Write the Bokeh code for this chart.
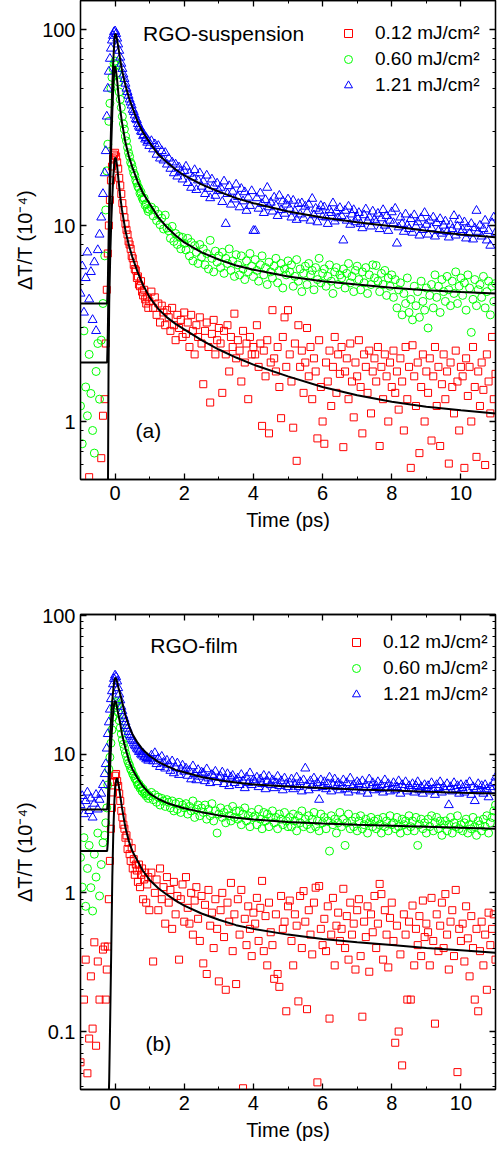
from bokeh.plotting import figure
from bokeh.layouts import column
from bokeh.models import (Range1d, FixedTicker, LinearAxis, LogAxis, CustomJSTickFormatter,
                          Legend, LegendItem, Label)
from bokeh.embed import file_html
from bokeh.resources import INLINE

FONT = "Liberation Sans"

# ---------------- time grid (ps) ----------------
TIME_PRE = [-1.0, -0.95, -0.9, -0.85, -0.8, -0.75, -0.7, -0.65, -0.6, -0.55, -0.5, -0.45, -0.4, -0.35, -0.3]
TIME_PEAK = [-0.27, -0.24, -0.21, -0.18, -0.15, -0.12, -0.09, -0.06, -0.03, 0.0,
             0.03, 0.06, 0.09, 0.12, 0.15, 0.18, 0.21, 0.24, 0.27, 0.3,
             0.33, 0.36, 0.39, 0.42, 0.45, 0.48, 0.51, 0.54, 0.57, 0.6,
             0.63, 0.66, 0.69, 0.72, 0.75, 0.78, 0.81, 0.84, 0.87, 0.9,
             0.93, 0.96, 0.99]
TIME_TAIL = [1.05, 1.1, 1.15, 1.2, 1.25, 1.3, 1.35, 1.4, 1.45, 1.5,
             1.55, 1.6, 1.65, 1.7, 1.75, 1.8, 1.85, 1.9, 1.95, 2.0,
             2.05, 2.1, 2.15, 2.2, 2.25, 2.3, 2.35, 2.4, 2.45, 2.5,
             2.55, 2.6, 2.65, 2.7, 2.75, 2.8, 2.85, 2.9, 2.95, 3.0,
             3.05, 3.1, 3.15, 3.2, 3.25, 3.3, 3.35, 3.4, 3.45, 3.5,
             3.55, 3.6, 3.65, 3.7, 3.75, 3.8, 3.85, 3.9, 3.95, 4.0,
             4.05, 4.1, 4.15, 4.2, 4.25, 4.3, 4.35, 4.4, 4.45, 4.5,
             4.55, 4.6, 4.65, 4.7, 4.75, 4.8, 4.85, 4.9, 4.95, 5.0,
             5.05, 5.1, 5.15, 5.2, 5.25, 5.3, 5.35, 5.4, 5.45, 5.5,
             5.55, 5.6, 5.65, 5.7, 5.75, 5.8, 5.85, 5.9, 5.95, 6.0,
             6.05, 6.1, 6.15, 6.2, 6.25, 6.3, 6.35, 6.4, 6.45, 6.5,
             6.55, 6.6, 6.65, 6.7, 6.75, 6.8, 6.85, 6.9, 6.95, 7.0,
             7.05, 7.1, 7.15, 7.2, 7.25, 7.3, 7.35, 7.4, 7.45, 7.5,
             7.55, 7.6, 7.65, 7.7, 7.75, 7.8, 7.85, 7.9, 7.95, 8.0,
             8.05, 8.1, 8.15, 8.2, 8.25, 8.3, 8.35, 8.4, 8.45, 8.5,
             8.55, 8.6, 8.65, 8.7, 8.75, 8.8, 8.85, 8.9, 8.95, 9.0,
             9.05, 9.1, 9.15, 9.2, 9.25, 9.3, 9.35, 9.4, 9.45, 9.5,
             9.55, 9.6, 9.65, 9.7, 9.75, 9.8, 9.85, 9.9, 9.95, 10.0,
             10.05, 10.1, 10.15, 10.2, 10.25, 10.3, 10.35, 10.4, 10.45, 10.5,
             10.55, 10.6, 10.65, 10.7, 10.75, 10.8, 10.85, 10.9, 10.95, 11.0]
TIME = TIME_PRE + TIME_PEAK + TIME_TAIL

# ---------------- (a) RGO-suspension, 0.12 mJ/cm2 ----------------
A_RED_PRE = [0.3, 0.42, 0.2, 0.35, 0.25, 0.52, 0.3, 0.15, 0.45, 0.38, 0.28, 0.4, 0.65, 1.07, 1.3]
A_RED_PEAK = [2.5, 4.7, 7.2, 10, 13.5, 17, 20, 22, 23, 23.5,
              22.5, 21, 19.5, 17.5, 16, 14.5, 13, 12, 11, 10.2,
              9.5, 9.0, 8.3, 8.0, 7.6, 7.0, 6.8, 6.3, 6.0, 5.9,
              5.4, 5.5, 5.0, 4.9, 5.2, 4.6, 4.4, 4.7, 4.2, 4.0,
              4.3, 3.8, 4.1]
A_RED_TAIL = [4.6, 3.8, 4.3, 3.5, 4.0, 3.2, 3.9, 3.6, 3.1, 3.7,
              3.4, 2.9, 3.8, 3.1, 2.6, 3.5, 3.0, 3.3, 2.7, 3.6,
              2.8, 3.2, 2.4, 3.5, 2.9, 2.2, 3.1, 2.7, 3.4, 2.5,
              1.55, 2.9, 3.2, 2.4, 1.25, 2.8, 3.3, 2.2, 2.6, 3.0,
              2.5, 1.4, 2.9, 2.2, 3.1, 1.8, 2.7, 2.4, 3.55, 2.1,
              2.6, 2.3, 1.6, 2.9, 2.0, 2.5, 1.3, 2.7, 2.2, 2.4,
              2.2, 3.1, 1.9, 2.5, 0.95, 2.3, 1.7, 2.6, 0.87, 2.0,
              3.7, 2.1, 1.8, 2.4, 1.5, 1.04, 2.7, 3.4, 1.9, 3.7,
              2.2, 1.6, 0.93, 2.5, 0.63, 3.1, 1.9, 2.3, 1.4, 2.0,
              3.0, 1.7, 2.4, 1.3, 2.1, 1.8, 0.82, 2.6, 1.5, 1.0,
              0.77, 2.0, 1.6, 2.3, 1.2, 1.9, 2.7, 1.4, 2.2, 1.75,
              2.4, 0.74, 1.8, 2.1, 1.3, 2.5, 1.6, 1.05, 2.0, 1.7,
              2.6, 1.5, 0.87, 2.2, 1.9, 1.4, 2.3, 1.1, 1.8, 2.1,
              1.6, 2.4, 0.75, 1.9, 1.3, 2.2, 1.7, 1.0, 2.0, 1.5,
              2.3, 1.4, 1.8, 1.15, 2.1, 1.6, 0.9, 2.4, 1.3, 1.9,
              0.58, 2.45, 1.7, 1.2, 2.0, 0.69, 1.5, 2.2, 1.0, 1.8,
              1.4, 2.1, 0.8, 1.7, 2.4, 1.2, 1.9, 0.75, 1.55, 2.2,
              1.3, 1.8, 0.61, 2.0, 1.5, 1.1, 2.3, 1.6, 0.9, 1.9,
              1.7, 0.58, 2.1, 1.35, 1.9, 1.0, 2.4, 1.5, 0.66, 1.8,
              1.2, 2.0, 1.45, 0.6, 2.2, 1.6, 1.1, 2.7, 1.3, 1.75]
A_RED = A_RED_PRE + A_RED_PEAK + A_RED_TAIL

# ---------------- (a) 0.60 mJ/cm2 ----------------
A_GREEN_PRE = [1.2, 0.77, 2.9, 1.5, 1.07, 2.2, 1.39, 0.9, 0.69, 1.8, 2.5, 1.3, 2.6, 4.0, 7.0]
A_GREEN_PEAK = [12, 19, 26, 34, 42, 50, 57, 63, 67, 69,
                66, 60, 54, 48, 44, 40, 36, 33, 31, 28.5,
                27, 25, 23.5, 22.5, 21, 20.5, 19.5, 18.5, 18, 17,
                16.5, 15.8, 15.5, 14.6, 14.8, 13.9, 13.5, 13.8, 12.7, 12.9,
                12.2, 11.8, 12.1]
A_GREEN_TAIL = [12.4, 11.2, 12.0, 10.6, 11.4, 10.1, 10.9, 9.6, 11.3, 9.7,
                9.4, 8.6, 9.9, 8.3, 9.1, 8.0, 8.8, 7.6, 8.7, 8.1,
                7.5, 8.6, 7.0, 8.2, 6.6, 7.9, 7.3, 6.4, 8.0, 6.9,
                7.6, 6.3, 7.2, 6.0, 8.4, 6.8, 5.8, 7.4, 6.5, 7.0,
                6.1, 7.3, 5.7, 6.8, 6.4, 7.6, 5.9, 6.6, 5.5, 7.1,
                6.3, 5.6, 7.0, 6.0, 5.3, 6.6, 5.8, 7.2, 6.2, 5.5,
                6.7, 5.9, 5.2, 6.3, 7.0, 5.6, 6.1, 5.0, 6.5, 5.8,
                5.4, 6.2, 6.8, 5.1, 5.9, 6.4, 4.8, 6.0, 5.6, 6.6,
                5.8, 6.3, 4.9, 5.5, 6.7, 5.2, 6.0, 4.6, 5.7, 6.2,
                5.0, 6.4, 5.6, 5.9, 4.7, 6.1, 5.3, 6.8, 5.1, 5.7,
                6.0, 4.9, 5.5, 6.3, 5.2, 4.5, 5.8, 6.1, 5.0, 5.6,
                5.4, 6.0, 4.8, 5.7, 6.4, 5.1, 5.5, 4.6, 5.9, 6.2,
                5.3, 4.7, 5.8, 5.1, 6.1, 4.5, 5.6, 5.0, 6.3, 5.4,
                6.25, 5.2, 4.6, 5.7, 5.0, 5.9, 4.4, 5.4, 4.9, 5.6,
                4.3, 5.3, 3.8, 4.7, 5.1, 3.5, 4.5, 4.0, 5.4, 3.6,
                4.2, 3.3, 4.9, 3.9, 4.6, 3.4, 5.2, 4.1, 3.7, 4.8,
                3.0, 4.4, 5.0, 3.8, 5.6, 4.3, 4.9, 3.6, 5.3, 4.6,
                4.1, 5.5, 4.7, 3.9, 5.2, 4.5, 5.8, 4.0, 4.9, 5.4,
                4.4, 5.1, 3.7, 5.6, 4.8, 2.85, 4.2, 5.3, 3.9, 4.7,
                5.0, 4.3, 5.5, 3.8, 4.6, 5.2, 3.5, 4.9, 4.1, 5.06]
A_GREEN = A_GREEN_PRE + A_GREEN_PEAK + A_GREEN_TAIL

# ---------------- (a) 1.21 mJ/cm2 ----------------
A_BLUE_PRE = [4.5, 6.2, 3.6, 5.4, 7.3, 4.2, 5.8, 3.3, 6.5, 2.9, 7.5, 9.0, 11, 14.5, 18.5]
A_BLUE_PEAK = [24, 36, 50, 61, 71, 80, 88, 93, 97, 98,
               95, 90, 84, 78, 72, 67, 63, 59, 56, 53,
               50, 48, 46, 44, 42.5, 41, 39, 38, 36.5, 35,
               34.5, 33, 32, 31.5, 30.2, 30, 28.6, 29, 27.5, 28,
               26.5, 27, 25.5]
A_BLUE_TAIL = [27, 24.5, 26, 23, 25.5, 22, 24, 21.5, 23.5, 20.5,
               22, 19.5, 21, 18.5, 20.5, 17.8, 19.8, 18.8, 17.2, 19.0,
               20, 16.5, 18.4, 15.6, 17.6, 19.2, 15.2, 17.0, 18.5, 15.8,
               16.8, 14.5, 18.0, 15.4, 13.8, 17.2, 15.9, 14.2, 16.4, 15.0,
               15.6, 13.2, 16.8, 10.2, 14.5, 15.9, 12.8, 14.9, 13.6, 16.2,
               14.0, 12.4, 15.4, 13.3, 14.8, 11.9, 13.9, 12.6, 15.0, 9.4,
               9.4, 13.8, 12.2, 14.6, 12.9, 11.6, 13.5, 15.6, 12.4, 13.1,
               11.8, 13.9, 12.6, 11.2, 14.2, 12.0, 13.3, 11.5, 12.8, 13.6,
               12.2, 11.0, 13.4, 11.8, 10.7, 12.9, 11.4, 13.0, 10.9, 12.5,
               11.7, 12.8, 10.6, 13.7, 11.3, 12.2, 10.4, 11.9, 12.6, 11.1,
               12.4, 11.0, 10.2, 12.0, 11.6, 13.0, 10.5, 11.8, 10.9, 12.3,
               11.2, 8.4, 11.9, 10.6, 12.5, 10.1, 11.4, 12.0, 10.4, 11.0,
               11.6, 10.2, 9.7, 11.3, 12.1, 10.5, 11.0, 9.9, 11.8, 10.7,
               10.4, 11.5, 9.6, 10.9, 12.0, 10.0, 11.2, 9.4, 10.6, 11.7,
               10.3, 12.2, 8.1, 9.8, 11.0, 10.2, 9.3, 11.4, 10.0, 9.6,
               10.8, 9.2, 11.3, 9.9, 10.4, 8.9, 10.9, 9.5, 11.6, 10.1,
               9.0, 10.6, 9.7, 11.0, 8.8, 10.3, 9.4, 10.8, 9.1, 10.0,
               10.5, 9.3, 8.7, 10.1, 9.6, 11.2, 8.9, 9.9, 10.7, 9.2,
               9.5, 10.4, 8.6, 9.8, 9.1, 10.2, 8.5, 9.7, 11.9, 9.3,
               10.0, 8.8, 9.6, 10.6, 8.4, 9.4, 7.9, 10.3, 11.0, 9.2]
A_BLUE = A_BLUE_PRE + A_BLUE_PEAK + A_BLUE_TAIL

# ---------------- (b) RGO-film, 0.12 mJ/cm2 ----------------
B_RED_PRE = [0.06, 0.03, 0.17, 0.33, 0.05, 0.089, 0.25, 0.105, 0.44, 0.079, 0.32, 0.17, 0.02, 0.39, 0.41]
B_RED_PEAK = [0.17, 0.28, 0.41, 0.9, 1.7, 2.9, 4.1, 5.3, 6.3, 7.0,
              7.2, 6.4, 5.9, 5.2, 4.6, 3.9, 3.5, 3.1, 2.9, 2.5,
              2.6, 2.07, 2.3, 1.9, 1.7, 2.1, 1.5, 1.75, 1.35, 1.6,
              1.45, 1.2, 1.6, 1.1, 1.35, 1.5, 0.9, 1.25, 1.4, 0.85,
              1.15, 1.3, 0.75]
B_RED_TAIL = [1.4, 0.32, 1.0, 1.25, 0.75, 1.5, 0.9, 1.1, 0.6, 1.3,
              0.85, 1.05, 0.55, 1.2, 0.7, 0.95, 0.33, 0.9, 1.15, 0.62,
              1.3, 0.78, 0.6, 1.0, 0.5, 0.88, 1.1, 0.65, 0.45, 0.95,
              0.31, 0.82, 0.26, 1.05, 0.58, 0.72, 0.4, 0.9, 0.55, 0.23,
              0.75, 1.0, 0.48, 0.2, 0.85, 0.62, 1.18, 0.38, 0.7, 0.22,
              0.9, 0.5, 1.05, 0.039, 0.65, 0.42, 0.8, 0.55, 0.35, 0.72,
              0.6, 0.92, 0.45, 0.78, 1.22, 0.38, 0.68, 0.3, 0.85, 0.52,
              0.42, 0.24, 0.7, 0.26, 0.21, 0.95, 0.55, 0.62, 0.14, 0.8,
              0.88, 0.45, 0.3, 0.7, 0.58, 0.165, 0.95, 0.4, 1.03, 0.62,
              0.145, 0.75, 0.5, 0.36, 0.85, 1.09, 0.043, 1.12, 0.55, 0.42,
              0.65, 0.38, 0.8, 0.124, 0.5, 0.92, 0.3, 0.58, 0.72, 0.45,
              0.55, 1.07, 0.4, 0.68, 0.33, 0.85, 0.5, 0.6, 0.28, 0.75,
              0.9, 0.35, 0.128, 0.62, 0.48, 0.8, 0.27, 0.7, 0.52, 0.95,
              0.4, 0.6, 1.16, 0.98, 0.33, 0.75, 0.5, 0.29, 0.66, 0.85,
              0.45, 0.083, 0.58, 0.1, 0.36, 0.057, 0.7, 0.5, 0.17, 0.62,
              0.17, 0.81, 0.3, 0.55, 0.42, 0.68, 0.35, 0.88, 0.48, 0.6,
              0.52, 0.3, 0.92, 0.45, 0.114, 0.7, 0.38, 0.58, 0.85, 0.4,
              0.98, 0.5, 0.28, 0.62, 0.75, 0.35, 1.05, 0.051, 0.55, 0.45,
              0.6, 0.32, 0.8, 0.47, 0.25, 0.68, 0.4, 0.17, 0.55, 0.14,
              0.38, 0.62, 0.3, 0.5, 0.2, 0.72, 0.42, 0.55, 0.7, 0.33]
B_RED = B_RED_PRE + B_RED_PEAK + B_RED_TAIL

# ---------------- (b) 0.60 mJ/cm2 ----------------
B_GREEN_PRE = [1.8, 1.1, 2.5, 0.8, 1.5, 2.2, 1.09, 0.74, 1.9, 1.3, 2.7, 0.95, 1.6, 2.3, 2.6]
B_GREEN_PEAK = [3.2, 4.1, 6.0, 7.8, 9.5, 12, 15, 18.5, 21.5, 23.5,
                24, 22.5, 20, 17.5, 15.5, 14, 12.7, 11.8, 11, 10.2,
                9.6, 9.0, 8.6, 8.3, 7.8, 7.6, 7.2, 7.0, 6.7, 6.6,
                6.3, 6.0, 6.1, 5.7, 5.8, 5.4, 5.6, 5.2, 5.3, 5.0,
                5.15, 4.8, 5.0]
B_GREEN_TAIL = [5.3, 4.7, 5.1, 4.5, 4.9, 4.3, 4.8, 4.6, 4.2, 4.7,
                4.5, 4.1, 4.6, 3.9, 4.4, 4.0, 4.5, 3.8, 4.3, 4.1,
                4.4, 3.7, 4.2, 3.9, 4.6, 3.5, 4.0, 4.3, 3.6, 4.1,
                3.8, 4.3, 3.4, 4.0, 3.6, 4.4, 3.3, 3.9, 2.7, 3.7,
                4.1, 3.5, 3.8, 3.2, 4.0, 3.6, 3.3, 4.2, 3.5, 3.9,
                3.4, 3.9, 3.1, 3.7, 4.1, 3.3, 3.6, 3.0, 3.8, 3.5,
                3.6, 3.1, 4.0, 3.4, 2.9, 3.8, 3.3, 3.7, 3.0, 3.5,
                3.9, 3.2, 3.5, 2.9, 3.7, 3.4, 3.1, 3.8, 3.3, 3.0,
                3.5, 3.0, 3.7, 3.3, 2.8, 3.6, 3.2, 3.9, 3.0, 3.4,
                3.1, 3.6, 2.9, 3.4, 3.8, 3.0, 3.3, 2.8, 3.7, 3.2,
                3.5, 2.9, 3.3, 2.0, 3.6, 3.1, 3.4, 2.7, 3.2, 3.8,
                3.0, 3.4, 2.2, 3.2, 3.7, 2.9, 3.3, 3.0, 3.5, 2.8,
                3.3, 3.6, 2.9, 3.1, 3.4, 2.7, 3.2, 3.5, 3.0, 3.3,
                2.9, 3.4, 3.1, 2.7, 3.5, 3.0, 3.3, 2.8, 3.6, 3.1,
                3.2, 2.9, 3.5, 3.0, 2.7, 3.4, 3.1, 3.3, 2.8, 3.6,
                3.0, 3.3, 2.8, 3.5, 2.2, 3.1, 3.4, 2.9, 3.2, 2.7,
                3.4, 3.0, 3.6, 2.8, 3.2, 3.5, 2.9, 3.3, 2.6, 3.1,
                3.3, 2.8, 3.1, 3.5, 2.7, 3.2, 3.0, 3.6, 2.9, 3.1,
                2.8, 3.2, 3.4, 2.7, 3.1, 2.9, 3.5, 3.0, 2.6, 3.3,
                3.1, 2.8, 3.4, 3.0, 3.6, 2.7, 3.2, 3.5, 3.9, 4.3]
B_GREEN = B_GREEN_PRE + B_GREEN_PEAK + B_GREEN_TAIL

# ---------------- (b) 1.21 mJ/cm2 ----------------
B_BLUE_PRE = [4.3, 5.0, 3.7, 4.6, 5.3, 3.9, 4.8, 3.5, 4.4, 5.1, 4.0, 4.7, 5.2, 6.0, 7.2]
B_BLUE_PEAK = [8.5, 11, 14, 17, 21, 25, 28.5, 32, 35, 37,
               36, 33.5, 30, 27, 24.5, 22, 20.5, 19, 18, 17,
               16, 15.3, 14.5, 13.8, 13.4, 12.8, 12.5, 12, 11.6, 11.4,
               11, 10.8, 10.4, 10.6, 10.0, 9.8, 10.1, 9.5, 9.6, 9.2,
               9.4, 9.0, 9.3]
B_BLUE_TAIL = [9.8, 8.9, 10.2, 8.5, 9.3, 8.1, 9.6, 8.7, 7.9, 9.0,
               8.4, 7.6, 8.9, 7.3, 8.0, 8.6, 7.1, 7.8, 8.3, 7.5,
               7.9, 7.0, 7.6, 6.6, 8.2, 7.2, 6.5, 7.7, 6.9, 7.4,
               7.3, 6.4, 7.8, 6.7, 6.2, 7.1, 6.9, 7.5, 6.3, 6.8,
               6.9, 7.4, 6.1, 6.6, 7.2, 5.9, 6.8, 7.0, 6.2, 6.5,
               6.7, 6.0, 7.1, 6.4, 5.7, 6.8, 6.2, 7.3, 6.0, 6.5,
               6.3, 6.8, 5.8, 6.6, 6.1, 7.0, 5.6, 6.4, 6.9, 6.0,
               6.5, 5.7, 6.2, 6.9, 5.9, 6.4, 5.5, 6.7, 6.1, 5.8,
               6.2, 6.6, 5.6, 6.0, 6.8, 5.8, 6.3, 5.4, 6.5, 7.9,
               6.0, 5.5, 6.4, 5.9, 6.7, 5.7, 6.2, 4.7, 6.5, 5.8,
               6.3, 5.6, 6.1, 6.8, 5.4, 6.0, 6.6, 5.8, 6.2, 5.5,
               5.9, 6.5, 5.6, 6.2, 5.3, 6.7, 5.8, 6.0, 5.5, 6.3,
               6.1, 5.4, 6.4, 5.7, 6.0, 5.2, 6.6, 5.8, 6.2, 5.5,
               5.9, 6.3, 5.6, 6.0, 5.3, 6.5, 5.7, 6.1, 5.4, 5.8,
               6.2, 5.5, 5.8, 6.4, 5.2, 6.0, 5.7, 6.3, 5.4, 5.9,
               5.6, 6.1, 5.3, 5.9, 6.3, 5.5, 5.8, 5.2, 6.0, 5.7,
               5.9, 5.4, 6.2, 5.6, 5.1, 6.0, 5.7, 6.3, 5.3, 5.8,
               5.5, 6.1, 4.3, 5.8, 5.4, 6.2, 5.6, 5.9, 5.2, 6.0,
               5.7, 5.3, 6.0, 5.5, 6.3, 5.1, 5.8, 4.6, 5.6, 6.1,
               5.4, 5.9, 5.2, 6.0, 5.6, 4.9, 5.8, 5.5, 6.2, 6.8]
B_BLUE = B_BLUE_PRE + B_BLUE_PEAK + B_BLUE_TAIL

# ---------------- fitted curves ----------------
FIT_TIME = [-1.0, -0.23, -0.21, -0.19, -0.17, -0.14, -0.11, -0.08, -0.05, -0.02,
            0.0, 0.03, 0.06, 0.1, 0.15, 0.2, 0.3, 0.4, 0.5, 0.65,
            0.8, 1.0, 1.25, 1.5, 1.75, 2.0, 2.5, 3.0, 3.5, 4.0,
            5.0, 6.0, 7.0, 8.0, 9.0, 10.0, 11.0]
FIT_A_RED = [0.05, 0.05, 0.3, 1.8, 4.0, 7.0, 10.5, 14, 18, 21,
             22.2, 21.8, 20, 17, 14, 12, 9.4, 7.9, 6.9, 5.8,
             5.0, 4.3, 3.75, 3.4, 3.15, 2.95, 2.6, 2.33, 2.12, 1.95,
             1.7, 1.5, 1.36, 1.26, 1.19, 1.14, 1.1]
FIT_A_GREEN = [2.0, 2.0, 2.8, 5.0, 9.0, 16, 26, 38, 52, 62,
               65, 61, 55, 46, 39, 33.5, 26.5, 22.5, 19.8, 16.8,
               14.7, 12.9, 11.0, 9.8, 8.9, 8.2, 7.3, 6.7, 6.25, 5.95,
               5.5, 5.2, 5.0, 4.82, 4.68, 4.58, 4.5]
FIT_A_BLUE = [4.0, 4.0, 5.0, 8.0, 13, 22, 35, 52, 70, 88,
              95, 94, 88, 80, 70, 62, 52, 45, 40, 34,
              30, 26.5, 23, 21, 19.3, 18, 16.2, 14.9, 13.8, 13.0,
              11.8, 11.0, 10.4, 9.9, 9.4, 9.0, 8.7]
FIT_B_RED = [0.01, 0.01, 0.02, 0.03, 0.045, 0.13, 0.4, 1.3, 2.8, 4.6,
             5.6, 6.5, 6.7, 6.1, 5.0, 4.1, 2.95, 2.35, 2.0, 1.7,
             1.45, 1.24, 1.08, 0.97, 0.88, 0.81, 0.71, 0.64, 0.585, 0.55,
             0.5, 0.465, 0.44, 0.42, 0.40, 0.385, 0.37]
FIT_B_GREEN = [2.0, 2.0, 2.3, 3.2, 5.0, 8.5, 12.5, 16.5, 20.5, 23.5,
               24.3, 23.5, 21.5, 19, 16.5, 14, 11, 9, 7.8, 6.7,
               5.9, 5.2, 4.75, 4.45, 4.25, 4.08, 3.82, 3.62, 3.48, 3.38,
               3.25, 3.17, 3.1, 3.05, 3.0, 2.95, 2.9]
FIT_B_BLUE = [4.0, 4.0, 4.6, 6.5, 9.5, 14, 19, 24.5, 29.5, 34,
              35.5, 35, 33, 30, 27, 24, 19, 16, 14, 12.1,
              10.8, 9.7, 8.8, 8.2, 7.7, 7.4, 6.85, 6.5, 6.25, 6.05,
              5.85, 5.7, 5.57, 5.47, 5.37, 5.28, 5.2]

LABELS = ["0.12 mJ/cm²", "0.60 mJ/cm²", "1.21 mJ/cm²"]
COLORS = ["#ff0000", "#00ff00", "#0000ff"]
MARKERS = ["square", "circle", "triangle"]
SIZES = [7, 8, 9]

X_MAJOR = [0, 2, 4, 6, 8, 10]
X_MINOR = [-1, 1, 3, 5, 7, 9, 11]
A_Y_MAJOR = [1, 10, 100]
A_Y_MINOR = [0.6, 0.7, 0.8, 0.9, 2, 3, 4, 5, 6, 7, 8, 9, 20, 30, 40, 50, 60, 70, 80, 90]
B_Y_MAJOR = [0.1, 1, 10, 100]
B_Y_MINOR = [0.04, 0.05, 0.06, 0.07, 0.08, 0.09, 0.2, 0.3, 0.4, 0.5, 0.6, 0.7, 0.8, 0.9,
             2, 3, 4, 5, 6, 7, 8, 9, 20, 30, 40, 50, 60, 70, 80, 90]


def style_axis(ax, show_labels):
    ax.axis_line_color = "black"
    ax.axis_line_width = 1.3
    ax.major_tick_in = 6
    ax.major_tick_out = 0
    ax.minor_tick_in = 3
    ax.minor_tick_out = 0
    ax.major_tick_line_color = "black"
    ax.major_tick_line_width = 1.3
    ax.minor_tick_line_color = "black"
    ax.minor_tick_line_width = 1
    if show_labels:
        ax.major_label_text_font = FONT
        ax.major_label_text_font_size = "20px"
        ax.major_label_text_color = "black"
        ax.axis_label_text_font = FONT
        ax.axis_label_text_font_size = "20px"
        ax.axis_label_text_font_style = "normal"
        ax.axis_label_text_color = "black"
    else:
        ax.major_label_text_font_size = "2px"
        ax.major_label_text_color = None
        ax.major_label_standoff = 0


def make_panel(height, b_top, b_bottom, y_lo, y_hi, y_major, y_minor, data, fits,
               legend_loc, title, title_xy, tag, tag_xy):
    p = figure(width=498, height=height, x_range=Range1d(-1, 11), y_range=Range1d(y_lo, y_hi),
               y_axis_type="log", output_backend="svg", toolbar_location=None,
               min_border_left=80, min_border_right=3, min_border_top=b_top,
               min_border_bottom=b_bottom)
    p.xgrid.visible = False
    p.ygrid.visible = False
    p.outline_line_color = "black"
    p.outline_line_width = 1.3
    xt = FixedTicker(ticks=X_MAJOR, minor_ticks=X_MINOR)
    yt = FixedTicker(ticks=y_major, minor_ticks=y_minor)
    xa = p.xaxis[0]
    ya = p.yaxis[0]
    xa.ticker = xt
    ya.ticker = yt
    ya.formatter = CustomJSTickFormatter(code="return tick < 1 ? tick.toFixed(1) : tick.toFixed(0);")
    xa.axis_label = "Time (ps)"
    ya.axis_label = "ΔT/T (10⁻⁴)"
    style_axis(xa, True)
    style_axis(ya, True)
    xa.major_label_standoff = 6
    xa.axis_label_standoff = 6
    ya.major_label_standoff = 5
    ya.axis_label_standoff = 3
    top = LinearAxis(ticker=xt)
    right = LogAxis(ticker=yt)
    style_axis(top, False)
    style_axis(right, False)
    p.add_layout(top, "above")
    p.add_layout(right, "right")

    items = []
    for ys, color, marker, size, label in zip(data, COLORS, MARKERS, SIZES, LABELS):
        r = p.scatter(TIME, ys, marker=marker, size=size, fill_color=None,
                      line_color=color, line_width=1)
        items.append(LegendItem(label=label, renderers=[r]))
    for fy in fits:
        p.line(FIT_TIME, fy, line_color="black", line_width=2)

    legend = Legend(items=items, location=legend_loc, orientation="vertical",
                    background_fill_alpha=0, border_line_color=None,
                    glyph_width=20, glyph_height=22, label_height=22, label_standoff=17,
                    spacing=4, padding=4, margin=0,
                    label_text_font=FONT, label_text_font_size="19px", label_text_color="black")
    p.add_layout(legend)

    p.add_layout(Label(x=title_xy[0], y=title_xy[1], text=title, text_font=FONT,
                       text_font_size="21px", text_baseline="middle", text_color="black"))
    p.add_layout(Label(x=tag_xy[0], y=tag_xy[1], text=tag, text_font=FONT,
                       text_font_size="21px", text_baseline="middle", text_color="black"))
    return p


pa = make_panel(545, 0, 66, 0.506, 140.6, A_Y_MAJOR, A_Y_MINOR,
                [A_RED, A_GREEN, A_BLUE], [FIT_A_RED, FIT_A_GREEN, FIT_A_BLUE],
                (258, 383), "RGO-suspension", (0.81, 95.4), "(a)", (0.59, 0.9))
pb = make_panel(602, 69, 58, 0.0382, 101.7, B_Y_MAJOR, B_Y_MINOR,
                [B_RED, B_GREEN, B_BLUE], [FIT_B_RED, FIT_B_GREEN, FIT_B_BLUE],
                (266, 384), "RGO-film", (1.02, 60.8), "(b)", (0.88, 0.082))

layout = column(pa, pb, spacing=0)
open("out.html", "w").write(file_html(layout, INLINE))
